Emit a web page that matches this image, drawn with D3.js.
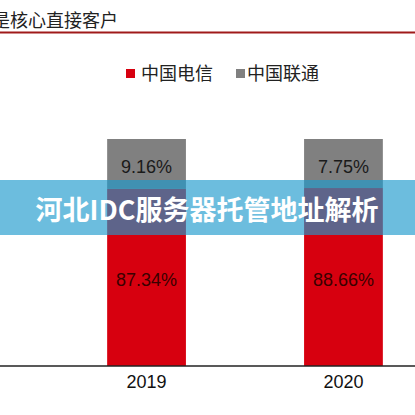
<!DOCTYPE html>
<html><head><meta charset="utf-8">
<script src="https://cdn.jsdelivr.net/npm/d3@7"></script>
<style>html,body{margin:0;padding:0;background:#fff;overflow:hidden}svg{display:block}</style>
</head><body>
<svg id="c" width="415" height="415"></svg>
<script>
const years = ["2019", "2020"];
const series = ["中国电信", "中国联通"];
const telecomHeight = [78.0, 78.4];
const unicomHeight = [22.0, 21.6];
const telecomLabels = ["87.34%", "88.66%"];
const unicomLabels = ["9.16%", "7.75%"];
const colors = ["#d7000f", "#808080"];
const titleText = "是核心直接客户";
const bannerText = "河北IDC服务器托管地址解析";

const svg = d3.select("#c");
const cjk = "'Liberation Sans', Arial, 'Noto Sans CJK SC', sans-serif";

svg.append("defs").append("clipPath").attr("id","clip")
  .append("rect").attr("x",0).attr("y",0).attr("width",415).attr("height",415);
const root = svg.append("g").attr("clip-path","url(#clip)");

root.append("rect").attr("width",415).attr("height",415).attr("fill","#fff");

// title
root.append("text").attr("x",-8).attr("y",27).attr("font-family",cjk)
  .attr("font-size",18).attr("fill","#222").text(titleText);
root.append("line").attr("x1",0).attr("x2",415).attr("y1",32.5).attr("y2",32.5)
  .attr("stroke","#a01a1a").attr("stroke-width",2);

const x = d3.scaleBand().domain(years).range([-11, 501]).padding(0.6);
const y = d3.scaleLinear().domain([0, 100]).range([366, 139]);

const rows = years.map((yr,i)=>({year:yr, t:telecomHeight[i], u:unicomHeight[i], tl:telecomLabels[i], ul:unicomLabels[i]}));
const stack = d3.stack().keys(["t","u"])(rows);

stack.forEach((layer,li)=>{
  root.append("g").selectAll("rect").data(layer).join("rect")
    .attr("x",d=>x(d.data.year)).attr("width",x.bandwidth())
    .attr("y",d=>y(d[1])).attr("height",d=>y(d[0])-y(d[1]))
    .attr("fill",colors[li]);
  root.append("g").selectAll("text").data(layer).join("text")
    .attr("x",d=>x(d.data.year)+x.bandwidth()/2)
    .attr("y",d=>(y(d[0])+y(d[1]))/2+3)
    .attr("text-anchor","middle").attr("dominant-baseline","central")
    .attr("font-family",cjk).attr("font-size",18)
    .attr("fill", li===0 ? "#3a0000" : "#1a1a1a")
    .text(d=> li===0 ? d.data.tl : d.data.ul);
});

// axis
const ax = root.append("g").attr("transform","translate(0,366)")
  .call(d3.axisBottom(x).tickSize(0).tickPadding(9));
ax.select(".domain").remove();
ax.selectAll("text").attr("font-family",cjk).attr("font-size",18).attr("fill","#111");
root.append("line").attr("x1",0).attr("x2",415).attr("y1",366).attr("y2",366)
  .attr("stroke","#222").attr("stroke-width",1.5);

// legend
const lg = [{x:126, tx:141},{x:236, tx:247}];
series.forEach((s,i)=>{
  root.append("rect").attr("x",lg[i].x).attr("y",69).attr("width",9).attr("height",9).attr("fill",colors[i]);
  root.append("text").attr("x",lg[i].tx).attr("y",74).attr("dominant-baseline","central")
    .attr("font-family",cjk).attr("font-size",18).attr("fill","#222").text(s);
});

// banner overlay
root.append("rect").attr("x",0).attr("y",180).attr("width",415).attr("height",55)
  .attr("fill","rgb(29,154,205)").attr("fill-opacity",0.65);
root.append("text").attr("x",207).attr("y",208).attr("text-anchor","middle")
  .attr("dominant-baseline","central")
  .attr("font-family","'Noto Sans CJK SC', sans-serif").attr("font-weight","bold")
  .attr("font-size",27).attr("fill","#fff").text(bannerText);
</script>
</body></html>
